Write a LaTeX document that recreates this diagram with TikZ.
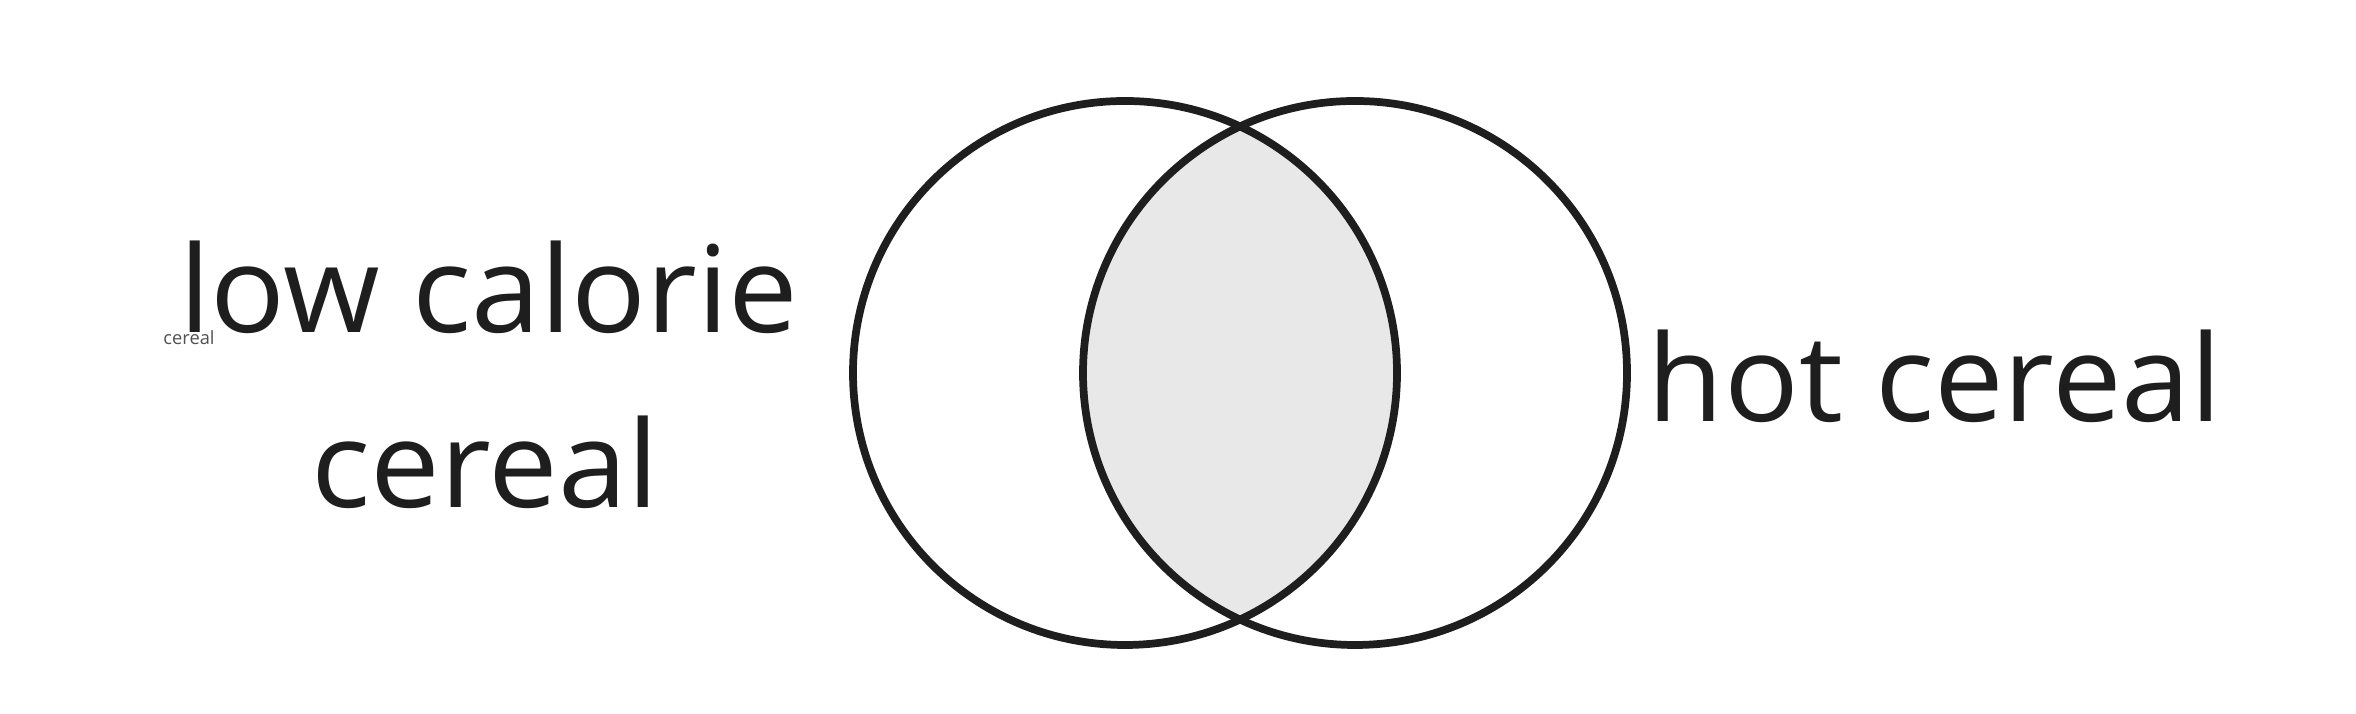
\documentclass[tikz,border=0pt]{standalone}
\usepackage{fontspec}
\setmainfont{Open Sans}
\usepackage{xcolor}
\usetikzlibrary{calc, positioning}
\definecolor{inkgray}{HTML}{1E1E1E}
\definecolor{lensgray}{HTML}{E8E8E8}
\definecolor{smallgray}{HTML}{505050}
\tikzset{
  setring/.style={line width=2.2pt, draw=inkgray},
  biglabel/.style={inner sep=0pt, anchor=base, text=inkgray, xscale=1.03,
    font=\fontsize{34.3}{41}\selectfont},
}

\begin{document}
\begin{tikzpicture}
\useasboundingbox (0,0) rectangle (23.56,7.14);
\def\rSet{2.72}
\coordinate (Lcenter) at (11.25,3.41);
\coordinate (Rcenter) at (13.55,3.41);

% Shaded overlap of the two sets
\begin{scope}
  \clip (Lcenter) circle (\rSet);
  \fill[lensgray] (Rcenter) circle (\rSet);
\end{scope}

% The two circles
\draw[setring] (Lcenter) circle (\rSet);
\draw[setring] (Rcenter) circle (\rSet);

% Labels
\node[biglabel] (lowcal) at (4.89,3.81) {low calorie};
\node[biglabel] (lowcereal) at (4.85,2.06) {cereal};
\node[inner sep=0pt, anchor=base, text=smallgray,
  font=\fontsize{5.2}{6.5}\selectfont] (tinycereal) at (1.89,3.69) {cereal};
\node[biglabel] (hotcereal) at (19.35,2.92) {hot cereal};
\end{tikzpicture}
\end{document}
